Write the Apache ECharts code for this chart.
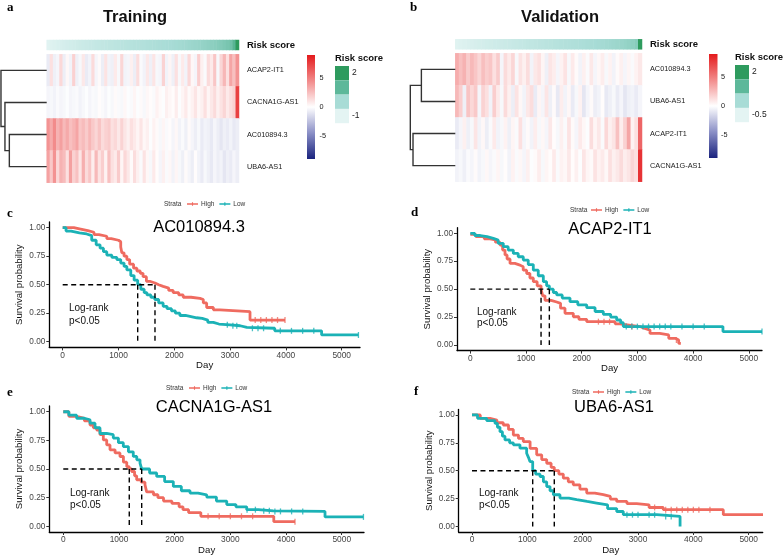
<!DOCTYPE html>
<html><head><meta charset="utf-8">
<script src="https://cdn.jsdelivr.net/npm/echarts@6/dist/echarts.min.js"></script>
<style>html,body{margin:0;padding:0;background:#fff}#c{width:784px;height:556px}</style>
</head><body><div id="c"></div>
<script>
// ---------------- DATA ----------------
const trGenes = ['ACAP2-IT1','CACNA1G-AS1','AC010894.3','UBA6-AS1'];
const vaGenes = ['AC010894.3','UBA6-AS1','ACAP2-IT1','CACNA1G-AS1'];

const acap2Tr = [-0.8,1.2,-0.6,-0.4,1.5,-0.7,0.3,-0.5,1.8,-0.6,-0.3,0.9,-0.8,-0.5,1.4,-0.4,0.2,-0.7,1.1,-0.5,-0.6,0.8,-0.3,1.6,-0.5,-0.4,0.6,-0.7,1.3,-0.2,-0.5,0.9,-0.6,1.0,-0.3,-0.4,1.7,-0.5,0.4,-0.6,1.2,-0.3,0.8,-0.5,1.5,0.3,-0.4,1.9,0.6,-0.2,1.4,0.8,2.2,-0.3,1.6,2.8,1.2,3.5,2.5,4.2];
const cacnaTr = [-0.4,-0.3,-0.5,-0.2,-0.4,-0.3,-0.1,-0.4,-0.3,-0.2,-0.5,-0.3,-0.1,-0.4,-0.2,-0.3,0.1,-0.2,-0.4,-0.1,-0.3,0.2,-0.2,-0.3,0.3,-0.1,-0.2,0.4,-0.1,0.2,-0.3,0.3,0.1,-0.2,0.5,0.2,-0.1,0.6,0.3,0.1,0.7,-0.1,0.4,0.8,0.2,0.5,1.0,0.3,0.6,1.2,0.4,0.9,1.4,0.6,1.1,1.6,0.8,1.3,1.8,7.5];
const ac01Tr = [4.2,3.3,4.5,3.0,3.7,2.7,3.3,2.5,2.9,3.5,2.2,2.6,2.0,2.8,2.1,1.6,2.3,1.4,1.8,2.0,1.2,1.5,0.9,1.7,1.0,0.6,1.2,0.8,0.4,1.0,0.3,0.6,-0.1,0.5,0.2,-0.3,0.4,-0.2,0.1,-0.4,0.3,-0.5,-0.2,-0.6,0.2,-0.4,-0.7,-0.3,-0.8,-0.5,-0.6,-0.9,-0.4,-0.7,-1.0,-0.6,-0.8,-0.5,-0.9,-0.7];
const uba6Tr = [3.6,2.1,4.2,1.5,3.0,2.6,1.2,3.7,1.8,2.4,1.0,3.1,1.4,2.2,0.7,2.7,1.1,1.9,0.5,2.4,1.2,0.8,2.0,0.4,1.5,0.9,0.2,1.3,0.6,-0.2,1.1,0.3,-0.3,0.8,0.1,-0.4,0.6,-0.2,0.3,-0.5,0.4,-0.3,-0.6,0.2,-0.4,-0.7,0.1,-0.5,-0.8,-0.3,-0.6,-0.9,-0.4,-0.7,-0.5,-1.0,-0.6,-0.8,-0.4,-0.7];
const riskTr = [-0.95,-0.9,-0.86,-0.82,-0.78,-0.75,-0.72,-0.69,-0.66,-0.63,-0.6,-0.57,-0.55,-0.52,-0.5,-0.47,-0.45,-0.43,-0.4,-0.38,-0.36,-0.34,-0.32,-0.3,-0.28,-0.26,-0.24,-0.22,-0.2,-0.18,-0.16,-0.14,-0.12,-0.1,-0.08,-0.06,-0.04,-0.02,0,0.02,0.04,0.06,0.08,0.1,0.13,0.16,0.19,0.22,0.25,0.28,0.32,0.36,0.4,0.45,0.5,0.56,0.63,0.75,1.1,2.0];

const ac01Va = [3.2,2.5,3.0,2.0,2.7,2.2,1.6,2.5,1.9,2.2,1.2,2.0,-0.4,1.4,0.8,1.6,-0.3,1.1,0.6,1.3,-0.5,0.9,1.2,0.4,-0.6,1.0,0.7,-0.4,0.5,1.1,-0.3,0.8,0.2,-0.5,0.6,-0.2,0.9,-0.4,0.3,0.7,-0.3,0.5,-0.5,0.2,0.6,-0.4,0.4,-0.2,0.5,0.9];
const uba6Va = [2.7,1.9,-0.6,2.3,1.5,2.1,-0.4,1.7,1.2,-0.5,1.9,0.8,-0.3,1.4,0.6,-0.7,1.1,0.3,-0.5,0.9,1.3,-0.8,0.4,-0.4,1.0,-0.6,0.2,-0.9,0.7,-0.5,0.3,-0.8,-0.3,0.5,-1.0,-0.4,0.2,-0.7,-0.5,0.1,-0.9,-0.6,-0.3,-0.8,-0.4,-1.0,-0.6,-0.5,-0.8,-0.4];
const acap2Va = [-0.8,-0.4,0.6,-0.6,-0.3,1.0,-0.5,0.3,-0.7,-0.2,0.8,-0.5,-0.3,0.5,-0.6,0.4,-0.2,1.2,-0.4,0.2,-0.5,0.7,-0.3,0.3,-0.4,0.9,0.1,-0.3,0.6,-0.2,1.1,0.2,-0.4,0.8,0.3,-0.1,1.3,0.4,0.9,-0.2,1.5,0.6,1.0,2.4,0.7,1.8,3.5,0.5,1.2,6.0];
const cacnaVa = [-0.5,-0.3,-0.6,-0.2,-0.4,0.2,-0.5,-0.3,0.3,-0.4,-0.2,0.4,-0.3,0.1,-0.5,0.5,-0.2,0.3,-0.4,0.6,-0.1,0.2,0.7,-0.3,0.4,0.1,0.8,-0.2,0.5,0.3,0.9,0.1,0.6,-0.1,1.0,0.4,0.2,1.1,0.5,0.8,0.3,1.2,0.6,0.9,1.4,0.7,1.0,1.6,1.2,8.0];
const riskVa = [-0.45,-0.42,-0.39,-0.36,-0.33,-0.3,-0.28,-0.26,-0.24,-0.22,-0.2,-0.18,-0.16,-0.14,-0.12,-0.1,-0.08,-0.06,-0.04,-0.02,0,0.02,0.04,0.06,0.08,0.1,0.12,0.14,0.16,0.18,0.2,0.22,0.24,0.26,0.28,0.3,0.32,0.34,0.36,0.38,0.4,0.42,0.44,0.47,0.5,0.53,0.57,0.62,0.7,2.0];

// dendrogram merges: [childA, childB, height]; leaves 0..3, merges numbered 4,5,6
const dendroTr = [[2,3,8.0],[1,4,8.94],[0,5,9.79]];
const dendroVa = [[0,1,7.17],[2,3,8.94],[4,5,9.51]];

const exprTicks = [5,0,-5];

// Kaplan-Meier curves [day, survival]
const kmC_high = [[0,1],[200,0.99],[300,0.975],[450,0.96],[560,0.94],[650,0.925],[790,0.905],[870,0.89],[1000,0.877],[1040,0.83],[1060,0.78],[1100,0.75],[1150,0.72],[1200,0.68],[1270,0.645],[1330,0.62],[1390,0.6],[1440,0.57],[1500,0.53],[1560,0.515],[1654,0.5],[1720,0.485],[1800,0.47],[1900,0.45],[1980,0.43],[2080,0.41],[2160,0.39],[2300,0.38],[2460,0.37],[2520,0.34],[2580,0.3],[2700,0.28],[2819,0.263],[3357,0.19],[3984,0.19]];
const kmC_low = [[0,1],[60,0.97],[150,0.955],[300,0.945],[430,0.93],[520,0.89],[600,0.85],[670,0.82],[730,0.79],[790,0.76],[880,0.74],[970,0.72],[1040,0.69],[1100,0.66],[1150,0.63],[1220,0.58],[1280,0.54],[1344,0.5],[1400,0.46],[1460,0.43],[1510,0.41],[1580,0.39],[1650,0.37],[1720,0.34],[1800,0.31],[1870,0.29],[1950,0.27],[2020,0.25],[2100,0.23],[2200,0.22],[2300,0.21],[2400,0.205],[2500,0.19],[2600,0.17],[2700,0.155],[2800,0.148],[3000,0.14],[3180,0.126],[3300,0.118],[3800,0.095],[4640,0.059],[5300,0.059]];
const kmD_high = [[0,0.99],[100,0.97],[250,0.95],[354,0.94],[450,0.92],[533,0.895],[580,0.85],[623,0.806],[660,0.77],[713,0.73],[800,0.715],[892,0.7],[950,0.67],[1012,0.64],[1070,0.6],[1131,0.567],[1200,0.53],[1270,0.5],[1300,0.44],[1341,0.4],[1450,0.385],[1551,0.373],[1620,0.33],[1700,0.284],[1849,0.253],[1950,0.23],[2090,0.209],[2600,0.19],[2687,0.179],[2850,0.165],[3047,0.15],[3120,0.134],[3226,0.104],[3400,0.09],[3562,0.06],[3680,0.045],[3741,0.015],[3780,0.015]];
const kmD_low = [[0,1],[80,0.98],[180,0.97],[300,0.955],[413,0.94],[500,0.91],[592,0.88],[680,0.85],[772,0.82],[860,0.79],[951,0.76],[1040,0.72],[1131,0.67],[1220,0.62],[1311,0.567],[1370,0.53],[1419,0.5],[1490,0.47],[1551,0.448],[1650,0.42],[1790,0.388],[1930,0.36],[2090,0.334],[2240,0.3],[2388,0.275],[2520,0.25],[2628,0.224],[2700,0.2],[2747,0.165],[4536,0.12],[5237,0.12]];
const kmE_high = [[0,1],[100,0.96],[240,0.943],[380,0.92],[480,0.884],[540,0.86],[600,0.84],[660,0.8],[719,0.754],[780,0.71],[839,0.667],[930,0.64],[1018,0.609],[1080,0.56],[1140,0.52],[1185,0.5],[1228,0.478],[1280,0.44],[1318,0.406],[1400,0.385],[1467,0.363],[1497,0.3],[1620,0.275],[1700,0.25],[1800,0.22],[1950,0.2],[2080,0.17],[2150,0.145],[2250,0.12],[2470,0.087],[3780,0.04],[4161,0.04]];
const kmE_low = [[0,1],[100,0.97],[240,0.943],[380,0.93],[480,0.9],[570,0.86],[659,0.81],[779,0.8],[898,0.77],[990,0.73],[1078,0.696],[1170,0.65],[1257,0.61],[1320,0.58],[1378,0.551],[1408,0.5],[1550,0.465],[1677,0.435],[1820,0.39],[1976,0.348],[2120,0.31],[2276,0.29],[2420,0.275],[2575,0.255],[2750,0.22],[2935,0.189],[3100,0.17],[3294,0.145],[3500,0.135],[3772,0.13],[4700,0.082],[5390,0.082]];
const kmF_high = [[0,1],[150,0.97],[325,0.955],[450,0.93],[566,0.91],[660,0.87],[747,0.82],[840,0.79],[927,0.761],[1050,0.7],[1169,0.642],[1260,0.6],[1350,0.567],[1430,0.53],[1487,0.5],[1570,0.47],[1650,0.433],[1740,0.4],[1830,0.373],[1950,0.335],[2073,0.299],[2220,0.285],[2373,0.269],[2500,0.245],[2615,0.224],[2800,0.205],[2976,0.194],[3200,0.17],[3457,0.15],[4541,0.105],[5258,0.105]];
const kmF_low = [[0,1],[100,0.97],[265,0.95],[416,0.925],[460,0.89],[506,0.85],[550,0.81],[596,0.776],[680,0.75],[747,0.732],[867,0.702],[988,0.657],[1020,0.62],[1048,0.582],[1097,0.5],[1150,0.47],[1229,0.448],[1290,0.4],[1350,0.358],[1410,0.32],[1470,0.284],[1590,0.254],[1750,0.24],[1892,0.224],[2080,0.21],[2253,0.194],[2450,0.16],[2615,0.134],[2734,0.105],[3337,0.09],[3760,0.0]];

// medians [high, low]
const medC = [1654,1344];
const medD = [1270,1419];
const medE = [1185,1408];
const medF = [1487,1097];

// censored times
const censC_high = [3450,3550,3650,3750,3850,3984];
const censC_low = [2950,3050,3120,3400,3500,3600,3900,4100,4300,4500,5300];
const censD_high = [2300,2400,2500,2900,3700];
const censD_low = [2800,2900,3000,3100,3200,3300,3400,3500,3600,3800,4000,4200,5237];
const censE_high = [2600,2800,3000,3200,3400,4161];
const censE_low = [3300,3450,3600,3700,3800,3900,4100,4300,5390];
const censF_high = [3300,3500,3600,3700,3800,3900,4000,4100,4300,5258];
const censF_low = [2800,2900,3000,3200,3300,3500,3600];

const kmTitles = ['AC010894.3','ACAP2-IT1','CACNA1G-AS1','UBA6-AS1'];
const dayTicks = [0,1000,2000,3000,4000,5000];
const survTicks = [0,0.25,0.5,0.75,1];

// ---------------- STYLE / LAYOUT ----------------
const FONT = "'Liberation Sans', Arial, Helvetica, sans-serif";
const SERIF = "'Liberation Serif', 'DejaVu Serif', serif";
const RED = '#EF6B60', TEAL = '#1BB2B6';
const exprColors = ['#1a237e','#8a8fc6','#ffffff','#f28b8b','#e41a1c'];
const riskColors = ['#e4f4f3','#a8dcd6','#5db89a','#2e9b5e'];

const chart = echarts.init(document.getElementById('c'), null, {renderer:'canvas'});
const grid = [], xAxis = [], yAxis = [], series = [], graphic = [], legend = [];

function addGrid(g){ grid.push(g); return grid.length-1; }

function heatPanel(genes, rows, risk, rx, ry, hy, w, h, dendro, dx, dw){
  const g0 = addGrid({left:rx, top:ry, width:w, height:10});
  xAxis.push({type:'category', gridIndex:g0, data:risk.map((_,i)=>i), show:false});
  yAxis.push({type:'category', gridIndex:g0, data:['Risk score'], position:'right',
    axisLine:{show:false}, axisTick:{show:false},
    axisLabel:{fontFamily:FONT, fontWeight:'bold', fontSize:9.5, color:'#111', margin:8}});
  const riskIdx = series.length;
  series.push({type:'heatmap', xAxisIndex:xAxis.length-1, yAxisIndex:yAxis.length-1,
    data:risk.map((v,i)=>[i,0,v]), itemStyle:{borderWidth:0}, emphasis:{disabled:true}, progressive:0});
  const g1 = addGrid({left:rx, top:hy, width:w, height:h});
  xAxis.push({type:'category', gridIndex:g1, data:rows[0].map((_,i)=>i), show:false});
  yAxis.push({type:'category', gridIndex:g1, data:genes, inverse:true, position:'right',
    axisLine:{show:false}, axisTick:{show:false},
    axisLabel:{fontFamily:FONT, fontSize:7.3, color:'#222', margin:8}});
  const data = [];
  rows.forEach((r,j)=>r.forEach((v,i)=>data.push([i,j,v])));
  const heatIdx = series.length;
  series.push({type:'heatmap', xAxisIndex:xAxis.length-1, yAxisIndex:yAxis.length-1,
    data, itemStyle:{borderWidth:0}, emphasis:{disabled:true}, progressive:0});
  const g2 = addGrid({left:dx, top:hy, width:dw, height:h});
  xAxis.push({type:'value', gridIndex:g2, min:0, max:10, inverse:true, show:false});
  yAxis.push({type:'value', gridIndex:g2, min:0, max:genes.length, inverse:true, show:false});
  const nodes = genes.map((_,i)=>({x:0, y:i+0.5}));
  const lines = [];
  dendro.forEach(([a,b,ht])=>{
    const A = nodes[a], B = nodes[b];
    lines.push({coords:[[A.x,A.y],[ht,A.y],[ht,B.y],[B.x,B.y]]});
    nodes.push({x:ht, y:(A.y+B.y)/2});
  });
  series.push({type:'lines', coordinateSystem:'cartesian2d', xAxisIndex:xAxis.length-1, yAxisIndex:yAxis.length-1,
    polyline:true, data:lines, lineStyle:{color:'#333', width:1.4, opacity:1}, silent:true});
  return {riskIdx, heatIdx};
}

const tr = heatPanel(trGenes, [acap2Tr,cacnaTr,ac01Tr,uba6Tr], riskTr, 46.7, 40, 54.3, 192.3, 128.4, dendroTr, 0, 46.7);
const va = heatPanel(vaGenes, [ac01Va,uba6Va,acap2Va,cacnaVa], riskVa, 455.3, 39.3, 53.3, 186.7, 128.4, dendroVa, 408, 47.3);

function survAt(curve, t){
  let s = curve[0][1];
  for (const p of curve){ if (p[0] <= t) s = p[1]; }
  return s;
}

function kmPanel(g, xmin, xmax, high, low, med, censH, censL){
  const gi = addGrid(g);
  xAxis.push({type:'value', gridIndex:gi, min:xmin, max:xmax, name:'Day', nameLocation:'middle', nameGap:13,
    nameTextStyle:{fontFamily:FONT, fontSize:9.6, color:'#111'},
    axisLine:{onZero:false, lineStyle:{color:'#000', width:1.3}},
    axisTick:{customValues:dayTicks, length:3, lineStyle:{color:'#333'}},
    axisLabel:{customValues:dayTicks, formatter:v=>String(v), fontFamily:FONT, fontSize:8.4, color:'#444', margin:4},
    splitLine:{show:false}});
  yAxis.push({type:'value', gridIndex:gi, min:-0.05, max:1.05, name:'Survival probability', nameLocation:'middle', nameGap:24.5,
    nameTextStyle:{fontFamily:FONT, fontSize:9.6, color:'#111'},
    axisLine:{onZero:false, lineStyle:{color:'#000', width:1.3}},
    axisTick:{customValues:survTicks, length:3, lineStyle:{color:'#333'}},
    axisLabel:{customValues:survTicks, formatter:v=>v.toFixed(2), fontFamily:FONT, fontSize:8.2, color:'#444', margin:4},
    splitLine:{show:false}});
  const xi = xAxis.length-1, yi = yAxis.length-1;
  const base = {xAxisIndex:xi, yAxisIndex:yi, animation:false};
  series.push(Object.assign({type:'line', name:'High', step:'end', data:high, showSymbol:false,
    lineStyle:{width:2.8, color:RED}, itemStyle:{color:RED}, z:3}, base));
  series.push(Object.assign({type:'line', name:'Low', step:'end', data:low, showSymbol:false,
    lineStyle:{width:2.8, color:TEAL}, itemStyle:{color:TEAL}, z:3}, base));
  series.push(Object.assign({type:'scatter', name:'High', data:censH.map(t=>[t,survAt(high,t)]),
    symbol:'rect', symbolSize:[1.3,6], itemStyle:{color:RED}, z:3, silent:true}, base));
  series.push(Object.assign({type:'scatter', name:'Low', data:censL.map(t=>[t,survAt(low,t)]),
    symbol:'rect', symbolSize:[1.3,6], itemStyle:{color:TEAL}, z:3, silent:true}, base));
  const mMax = Math.max(med[0], med[1]);
  const dash = {type:'line', showSymbol:false, lineStyle:{color:'#000', width:1.4, type:[5,3.5]}, z:5, silent:true};
  series.push(Object.assign({}, dash, base, {data:[[0,0.5],[mMax,0.5]]}));
  med.forEach(m=>series.push(Object.assign({}, dash, base, {data:[[m,0.5],[m,0]]})));
}

kmPanel({left:49.3, top:222, width:310.7, height:125.4}, -240, 5328, kmC_high, kmC_low, medC, censC_high, censC_low);
kmPanel({left:457, top:227.7, width:305, height:122.9}, -239, 5237, kmD_high, kmD_low, medD, censD_high, censD_low);
kmPanel({left:49.3, top:406, width:314.7, height:126.5}, -251, 5400, kmE_high, kmE_low, medE, censE_high, censE_low);
kmPanel({left:458.7, top:409.4, width:304, height:122.9}, -240, 5253, kmF_high, kmF_low, medF, censF_high, censF_low);

// KM legends
const legPos = [[187,200.5,164,204],[591,206.5,570,210],[189,384.5,166,388],[593,388.5,572,392]];
const keyIcon = 'path://M0,3 L30,3 L30,7 L0,7 Z M13.5,0 L16.5,0 L16.5,10 L13.5,10 Z';
legPos.forEach(([lx,ly,sx,sy])=>{
  legend.push({left:lx, top:ly, data:['High','Low'], icon:keyIcon, itemWidth:11, itemHeight:6, itemGap:5,
    selectedMode:false, padding:0, textStyle:{fontFamily:FONT, fontSize:6.5, color:'#333', padding:[0,0,0,-2]}});
  graphic.push({type:'text', x:sx, y:sy, style:{text:'Strata', font:'6.5px '+FONT, fill:'#333', verticalAlign:'middle'}});
});

[[199,227],[610,229],[214,407],[614,407]].forEach(([x,y],i)=>{
  graphic.push({type:'text', x, y, style:{text:kmTitles[i], font:'16.5px '+FONT, fill:'#000', align:'center', verticalAlign:'middle'}});
});
[[69,308,321],[477,312,323],[70,493,505],[479,493,505]].forEach(([x,y1,y2])=>{
  graphic.push({type:'text', x, y:y1, style:{text:'Log-rank', font:'10px '+FONT, fill:'#111', verticalAlign:'middle'}});
  graphic.push({type:'text', x, y:y2, style:{text:'p<0.05', font:'10px '+FONT, fill:'#111', verticalAlign:'middle'}});
});
[['a',7,7.5],['b',410,7.5],['c',7,214],['d',411,212.5],['e',7,392.5],['f',414,392]].forEach(([t,x,y])=>{
  graphic.push({type:'text', x, y, style:{text:t, font:'bold 13px '+SERIF, fill:'#000', verticalAlign:'middle'}});
});
graphic.push({type:'text', x:135, y:17, style:{text:'Training', font:'bold 16.5px '+FONT, fill:'#111', align:'center', verticalAlign:'middle'}});
graphic.push({type:'text', x:560, y:17, style:{text:'Validation', font:'bold 16.5px '+FONT, fill:'#111', align:'center', verticalAlign:'middle'}});

function colorBar(x, y, w, h, lx){
  graphic.push({type:'rect', shape:{x, y, width:w, height:h}, style:{fill:new echarts.graphic.LinearGradient(0,0,0,1,
    exprColors.slice().reverse().map((c,i)=>({offset:i/(exprColors.length-1), color:c})))}});
  exprTicks.forEach(v=>{
    graphic.push({type:'text', x:lx, y:y + (9 - v)/18*h, style:{text:String(v), font:'7.3px '+FONT, fill:'#222', verticalAlign:'middle'}});
  });
}
colorBar(307, 55, 8, 104, 319.5);
colorBar(709, 54, 8.5, 104, 721);

function riskLegend(x, y, bw, bh, lo){
  graphic.push({type:'text', x, y:y-8, style:{text:'Risk score', font:'bold 9.5px '+FONT, fill:'#111', verticalAlign:'middle'}});
  riskColors.slice().reverse().forEach((c,i)=>{
    graphic.push({type:'rect', shape:{x, y:y+i*bh, width:bw, height:bh}, style:{fill:c}});
  });
  graphic.push({type:'text', x:x+bw+3, y:y+bh*0.5, style:{text:'2', font:'8.5px '+FONT, fill:'#222', verticalAlign:'middle'}});
  graphic.push({type:'text', x:x+bw+3, y:y+bh*3.5, style:{text:lo, font:'8.5px '+FONT, fill:'#222', verticalAlign:'middle'}});
}
riskLegend(335, 66, 14, 14.3, '-1');
riskLegend(735, 65, 14, 14.3, '-0.5');

const option = {
  animation:false,
  backgroundColor:'#fff',
  grid, xAxis, yAxis, series, legend, graphic,
  visualMap:[
    {type:'continuous', show:false, min:-9, max:9, seriesIndex:[tr.heatIdx, va.heatIdx], inRange:{color:exprColors}},
    {type:'continuous', show:false, min:-1, max:2, seriesIndex:[tr.riskIdx], inRange:{color:riskColors}},
    {type:'continuous', show:false, min:-0.5, max:2, seriesIndex:[va.riskIdx], inRange:{color:riskColors}}
  ]
};
chart.setOption(option);
</script></body></html>
